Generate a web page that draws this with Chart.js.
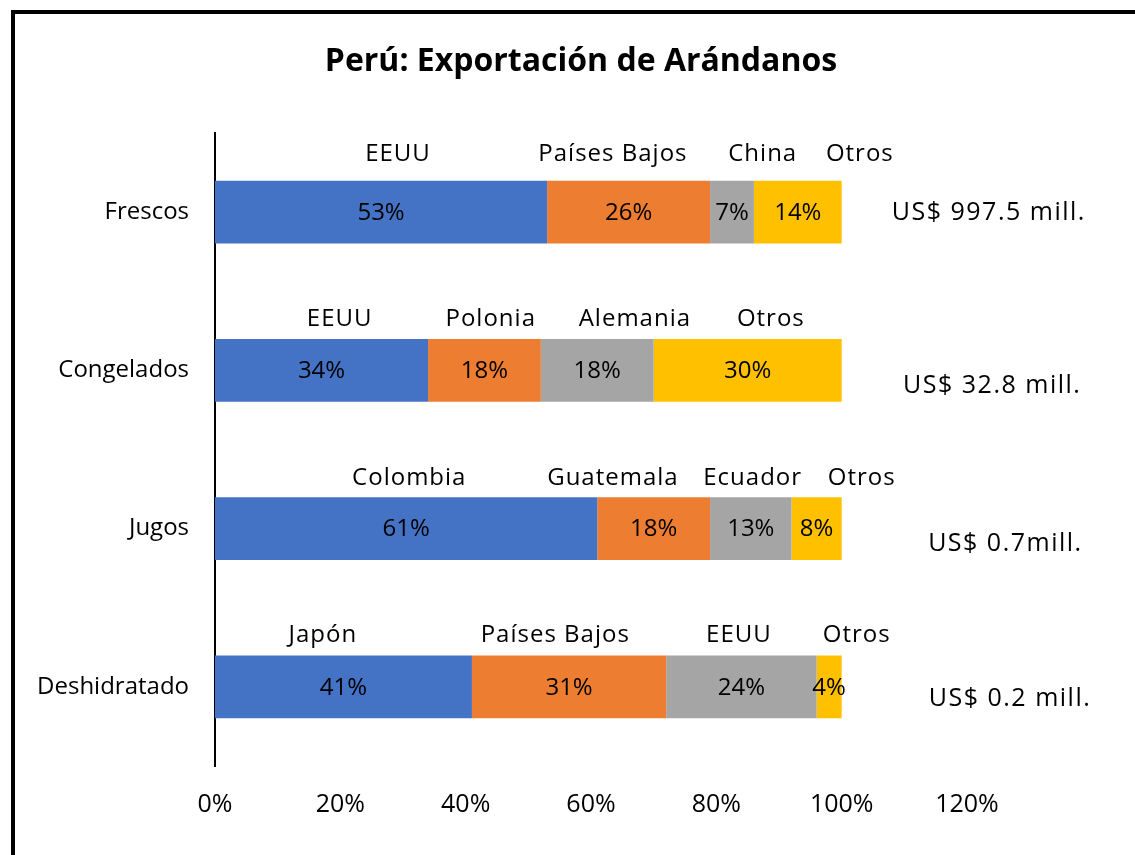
<!DOCTYPE html>
<html>
<head>
<meta charset="utf-8">
<script src="https://cdn.jsdelivr.net/npm/chart.js@4.4.1/dist/chart.umd.min.js"></script>
<style>
  html, body { margin: 0; padding: 0; background: #fff; overflow: hidden; }
  #wrap { position: relative; width: 1135px; height: 855px; }
  #frame { position: absolute; left: 11px; top: 10px; width: 1200px; height: 900px;
           border: 4px solid #000; pointer-events: none; box-sizing: border-box; }
  canvas { position: absolute; left: 0; top: 0; }
</style>
</head>
<body>
<div id="wrap">
  <canvas id="c" width="1135" height="855"></canvas>
  <div id="frame"></div>
</div>
<script>
// ---- data ----
const chartTitle = 'Perú: Exportación de Arándanos';
const categories = ['Frescos', 'Congelados', 'Jugos', 'Deshidratado'];
const series1 = [53, 34, 61, 41];
const series2 = [26, 18, 18, 31];
const series3 = [7, 18, 13, 24];
const series4 = [14, 30, 8, 4];
const countries1 = ['EEUU', 'EEUU', 'Colombia', 'Japón'];
const countries2 = ['Países Bajos', 'Polonia', 'Guatemala', 'Países Bajos'];
const countries3 = ['China', 'Alemania', 'Ecuador', 'EEUU'];
const countries4 = ['Otros', 'Otros', 'Otros', 'Otros'];
const totals = ['US$ 997.5 mill.', 'US$ 32.8 mill.', 'US$ 0.7mill.', 'US$ 0.2 mill.'];
const xTicks = [0, 20, 40, 60, 80, 100, 120];

// ---- layout of annotations (in axis value units / pixel offsets) ----
const countryLabelX = [
  [29.2, 63.5, 87.4, 102.9],
  [19.9, 44.0, 67.0, 88.7],
  [31.0, 63.5, 85.8, 103.2],
  [17.2, 54.3, 83.6, 102.4]
];
const countryLabelDy = [-27, -20, -19, -20];
const totalX = [108.0, 109.8, 113.8, 113.9];
const totalDy = [1, 15, 15, 12];

const colors = ['#4472C4', '#ED7D31', '#A5A5A5', '#FFC000'];
const FONT = '"Open Sans", "Noto Sans", sans-serif';

const annot = {
  id: 'annot',
  afterDatasetsDraw(chart) {
    const ctx = chart.ctx;
    const xs = chart.scales.x;
    const countryLists = [countries1, countries2, countries3, countries4];
    ctx.save();
    ctx.fillStyle = '#000';
    ctx.textBaseline = 'middle';
    // title centred on the page
    ctx.font = 'bold 32px ' + FONT;
    ctx.textAlign = 'center';
    ctx.letterSpacing = '0px';
    ctx.fillText(chartTitle, 581, 62);

    ctx.font = '24px ' + FONT;
    // percent labels inside segments
    chart.data.datasets.forEach((ds, di) => {
      const meta = chart.getDatasetMeta(di);
      meta.data.forEach((bar, i) => {
        const cx = (bar.x + bar.base) / 2;
        ctx.textAlign = 'center';
        ctx.letterSpacing = '0px';
        ctx.fillText(ds.data[i] + '%', cx, bar.y + 1);
      });
    });
    // country labels above bars and totals at right
    const meta0 = chart.getDatasetMeta(0);
    meta0.data.forEach((bar, i) => {
      const top = bar.y - bar.height / 2;
      ctx.font = '24px ' + FONT;
      ctx.textAlign = 'center';
      ctx.letterSpacing = '1px';
      for (let k = 0; k < 4; k++) {
        ctx.fillText(countryLists[k][i], xs.getPixelForValue(countryLabelX[i][k]), top + countryLabelDy[i]);
      }
      ctx.font = '25px ' + FONT;
      ctx.textAlign = 'left';
      ctx.letterSpacing = '1.5px';
      ctx.fillText(totals[i], xs.getPixelForValue(totalX[i]), bar.y + totalDy[i]);
    });
    ctx.restore();
  }
};

new Chart(document.getElementById('c'), {
  type: 'bar',
  data: {
    labels: categories,
    datasets: [series1, series2, series3, series4].map((d, i) => ({
      data: d,
      backgroundColor: colors[i],
      borderWidth: 0,
      categoryPercentage: 1,
      barPercentage: 0.395
    }))
  },
  options: {
    indexAxis: 'y',
    responsive: false,
    animation: false,
    layout: { padding: { left: 0, right: 168, top: 133, bottom: 0 } },
    plugins: {
      legend: { display: false },
      tooltip: { enabled: false },
      title: { display: false }
    },
    scales: {
      x: {
        stacked: true,
        min: 0, max: 120,
        afterBuildTicks(scale) { scale.ticks = xTicks.map(v => ({ value: v })); },
        grid: { display: false },
        border: { display: false },
        ticks: {
          color: '#000',
          font: { family: FONT, size: 25 },
          padding: 16,
          maxRotation: 0,
          callback: v => v + '%'
        },
        afterFit(scale) { scale.height = 855 - 766; }
      },
      y: {
        stacked: true,
        grid: { display: false, drawTicks: false },
        border: { display: true, color: '#000', width: 2 },
        ticks: {
          color: '#000',
          font: { family: FONT, size: 24 },
          padding: 26
        },
        afterFit(scale) { scale.width = 215; }
      }
    }
  },
  plugins: [annot]
});
</script>
</body>
</html>
